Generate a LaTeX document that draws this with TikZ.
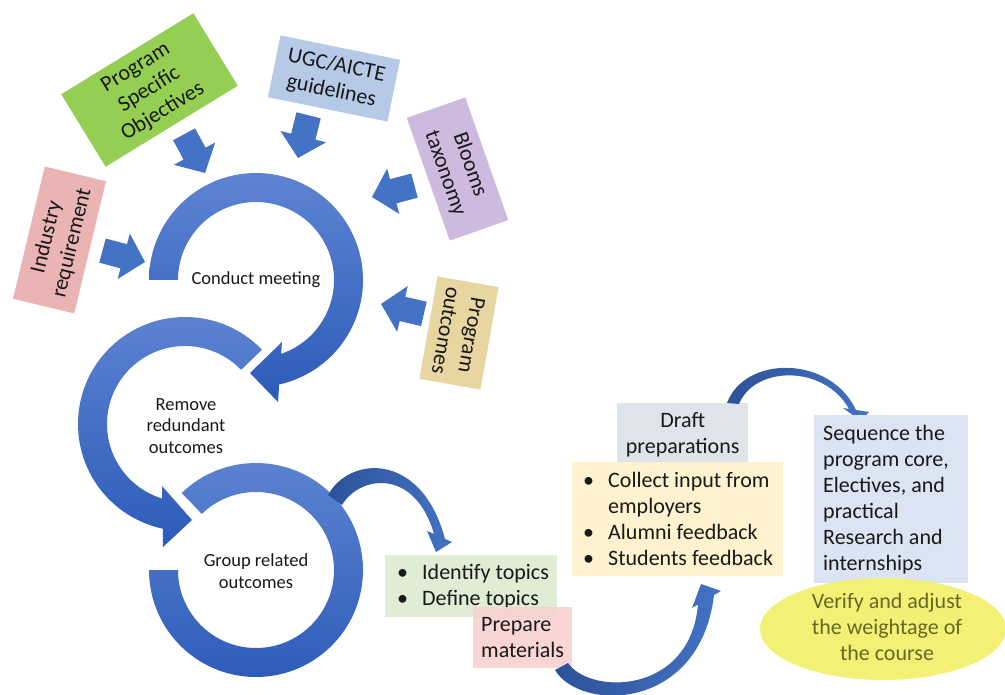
\documentclass[tikz,border=0pt]{standalone}
\usepackage{fontspec}
\setmainfont{Carlito}
\usetikzlibrary{calc,shapes.geometric}

\definecolor{textdark}{RGB}{25,25,25}
\definecolor{ringtop}{RGB}{94,132,210}
\definecolor{ringbot}{RGB}{44,91,184}
\definecolor{arrowblue}{RGB}{68,114,196}
\definecolor{arrowdark}{RGB}{44,82,152}
\definecolor{psogreen}{RGB}{148,207,84}
\definecolor{ugcblue}{RGB}{182,201,230}
\definecolor{bloomlav}{RGB}{206,186,223}
\definecolor{potan}{RGB}{231,214,162}
\definecolor{indpink}{RGB}{235,180,180}
\definecolor{topicgreen}{RGB}{222,237,212}
\definecolor{preppink}{RGB}{249,209,207}
\definecolor{draftgray}{RGB}{223,227,234}
\definecolor{collectyellow}{RGB}{255,243,207}
\definecolor{seqblue}{RGB}{219,228,243}
\definecolor{ellyellow}{RGB}{242,241,118}
\definecolor{olivetext}{RGB}{104,104,36}

\begin{document}
\begin{tikzpicture}[x=1pt,y=1pt,
  boxtext/.style={font=\fontsize{22}{26}\selectfont, text=textdark, align=center, inner sep=0pt},
  tiltbox/.style={boxtext, minimum width=#1},
  ringlabel/.style={font=\fontsize{18.5}{21.5}\selectfont, text=textdark, align=center, inner sep=0pt},
  ring/.style={top color=ringtop, bottom color=ringbot},
  plainbox/.style={inner sep=0pt, anchor=north west},
  blockarr/.pic={\fill[arrowblue] (0,12.5) -- (22,12.5) -- (22,23.5) -- (44,0)
                   -- (22,-23.5) -- (22,-12.5) -- (0,-12.5) -- cycle;}
]
\useasboundingbox (0,0) rectangle (1005,-695);

% ---------- ring centres ----------
\coordinate (c1) at (256,-280);
\coordinate (c2) at (185,-424);
\coordinate (c3) at (256,-570);

% ---------- ring 1: conduct meeting ----------
\path[ring] ($(c1)+(180:107)$) arc[start angle=180, end angle=-77.5, radius=107]
  -- (278,-402) -- (250,-373) -- (282,-342)
  -- ($(c1)+(-71.2:78)$) arc[start angle=-71.2, end angle=180, radius=78] -- cycle;

% ---------- ring 2: remove redundant outcomes ----------
\path[ring] ($(c2)+(44:107)$) arc[start angle=44, end angle=258, radius=107]
  -- (163,-547) -- (192,-520) -- (162,-486)
  -- ($(c2)+(253:78)$) arc[start angle=253, end angle=44, radius=78] -- cycle;

% ---------- ring 3: group related outcomes ----------
\path[ring] ($(c3)+(134:107)$) arc[start angle=134, end angle=-180, radius=107]
  -- ($(c3)+(180:78)$) arc[start angle=-180, end angle=134, radius=78] -- cycle;

\node[ringlabel] (meet) at (256,-280) {Conduct meeting};
\node[ringlabel] (remove) at (186,-426) {Remove\\redundant\\outcomes};
\node[ringlabel] (group) at (256,-571) {Group related\\outcomes};

% ---------- input boxes ----------
\node[tiltbox=155pt, minimum height=85pt, fill=psogreen, rotate=31.5] (pso) at (149.5,-90) {Program\\Specific\\Objectives};
\node[tiltbox=122pt, minimum height=63pt, fill=ugcblue, rotate=-11.5] (ugc) at (334,-78.5) {UGC/AICTE\\guidelines};
\node[tiltbox=130pt, minimum height=62pt, fill=bloomlav, rotate=-70.7] (bloom) at (457.5,-169) {Blooms\\taxonomy};
\node[tiltbox=104pt, minimum height=62pt, fill=potan, rotate=-100] (po) at (459,-333) {Program\\outcomes};
\node[tiltbox=136pt, minimum height=63pt, fill=indpink, rotate=76.5] (ind) at (59.5,-240) {Industry\\requirement};

% ---------- block arrows into the first ring ----------
\pic[rotate=-61.6] at (184.1,-134.3) {blockarr};
\pic[rotate=-104]  at (308.6,-115.3) {blockarr};
\pic[rotate=195]   at (414.5,-185.6) {blockarr};
\pic[rotate=167]   at (423.9,-313.9) {blockarr};
\pic[rotate=-15]   at (102.5,-250.6) {blockarr};

% ---------- topics and materials ----------
\node[plainbox, fill=topicgreen, minimum width=172pt, minimum height=62pt] (topics) at (385,-555) {};
\node[boxtext, align=left, anchor=west] at ($(topics.west)+(12,0)$)
  {\makebox[25pt][l]{\textbullet}Identify topics\\\makebox[25pt][l]{\textbullet}Define topics};

\node[plainbox, fill=preppink, fill opacity=0.92, minimum width=99pt, minimum height=61pt] (prep) at (473,-607) {};
\node[boxtext, align=left, anchor=west] at ($(prep.west)+(8,0)$) {Prepare\\materials};

% curved arrow: group related outcomes -> topics
\path[left color=arrowdark, right color=arrowblue]
  (328,-495) .. controls (350,-455) and (422,-452) .. (445,-539)
  -- (452,-542) -- (436,-552) -- (427,-531) -- (434,-534)
  .. controls (415,-468) and (360,-475) .. (342,-505) -- cycle;

% curved arrow: materials -> draft
\path[left color=arrowdark, right color=arrowblue]
  (555,-670) .. controls (580,-712) and (700,-712) .. (714,-595)
  -- (721,-591) -- (701,-584) -- (692,-608) -- (698,-604.5)
  .. controls (690,-695) and (590,-695) .. (568,-663) -- cycle;

% ---------- draft preparations ----------
\node[plainbox, fill=draftgray, minimum width=131pt, minimum height=62pt] (draft) at (617,-403) {};
\node[boxtext] at ($(draft.center)+(0,-1)$) {Draft\\preparations};

\node[plainbox, fill=collectyellow, minimum width=211pt, minimum height=114pt] (collect) at (572,-462) {};
\node[boxtext, align=left, anchor=west] at ($(collect.west)+(11,0)$)
  {\makebox[25pt][l]{\textbullet}Collect input from\\\hspace*{25pt}employers\\
   \makebox[25pt][l]{\textbullet}Alumni feedback\\\makebox[25pt][l]{\textbullet}Students feedback};

% curved arrow: draft -> sequence
\path[left color=arrowdark, right color=arrowblue]
  (727,-403) .. controls (745,-355) and (830,-355) .. (856,-410)
  -- (869,-412) -- (861,-421) -- (843,-408) -- (849,-409)
  .. controls (825,-365) and (755,-365) .. (739,-404) -- cycle;

% ---------- sequence and verification ----------
\node[plainbox, fill=seqblue, minimum width=154pt, minimum height=168pt] (seq) at (814,-415) {};
\node[boxtext, align=left, anchor=west] at ($(seq.west)+(9,0)$)
  {Sequence the\\program core,\\Electives, and\\practical\\Research and\\internships};

\node[ellipse, fill=ellyellow, inner sep=0pt, minimum width=246pt, minimum height=102pt] (verify) at (883,-629) {};
\node[boxtext, text=olivetext] at (887,-627) {Verify and adjust\\the weightage of\\the course};
\end{tikzpicture}
\end{document}
